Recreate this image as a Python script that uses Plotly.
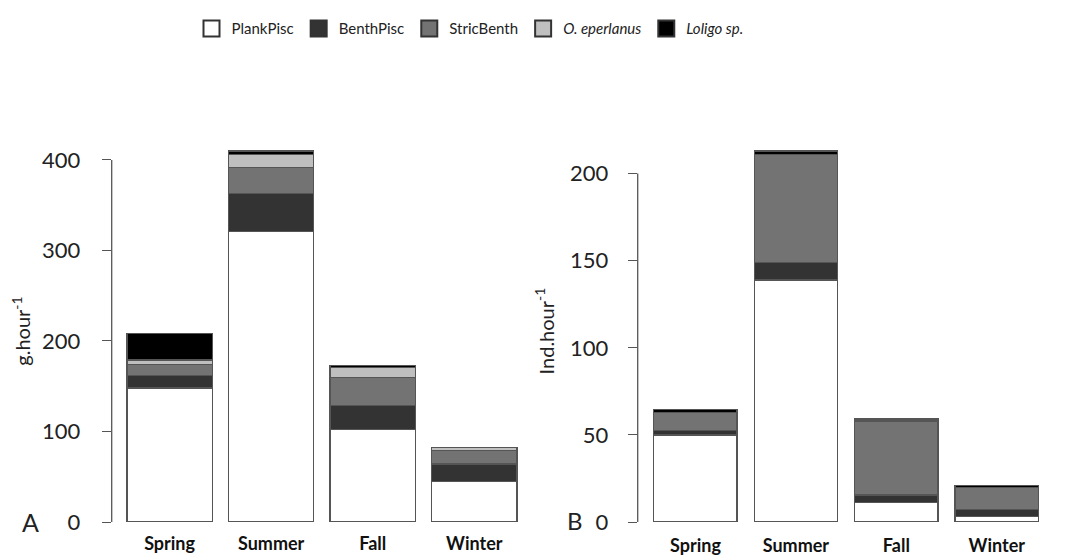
import plotly.graph_objects as go

seasons = ["Spring", "Summer", "Fall", "Winter"]
groups = ["PlankPisc", "BenthPisc", "StricBenth", "<i>O. eperlanus</i>", "<i>Loligo sp.</i>"]
colors = ["#ffffff", "#333333", "#737373", "#bfbfbf", "#000000"]

# Panel A: biomass (g.hour-1)
plank_A = [148, 321, 102, 45]
benth_A = [14, 42, 27, 19]
stric_A = [12, 29, 31, 15]
eper_A = [5, 14, 11, 3]
loligo_A = [29, 4, 2, 0]

# Panel B: abundance (Ind.hour-1)
plank_B = [50, 139, 11, 3]
benth_B = [2.5, 10, 4.5, 4]
stric_B = [10.5, 62, 42.5, 13]
eper_B = [0, 0, 0, 0]
loligo_B = [1.5, 2, 1.2, 1.1]

ticks_A = [0, 100, 200, 300, 400]
ticks_B = [0, 50, 100, 150, 200]

series_A = [plank_A, benth_A, stric_A, eper_A, loligo_A]
series_B = [plank_B, benth_B, stric_B, eper_B, loligo_B]

FONT = "Lato, 'Open Sans', sans-serif"
LINE = "#555555"

W, H = 1067, 549  # page has an 8px body margin

fig = go.Figure()

for vals, col in zip(series_A, colors):
    fig.add_trace(go.Bar(x=seasons, y=vals, marker=dict(color=col, line=dict(color=LINE, width=1.3)),
                         width=0.84, showlegend=False, xaxis="x", yaxis="y", hoverinfo="skip"))
for vals, col in zip(series_B, colors):
    fig.add_trace(go.Bar(x=seasons, y=vals, marker=dict(color=col, line=dict(color=LINE, width=1.3)),
                         width=0.83, showlegend=False, xaxis="x2", yaxis="y2", hoverinfo="skip"))

# legend entries
for name, col in zip(groups, colors):
    fig.add_trace(go.Scatter(x=[None], y=[None], mode="markers", name=name,
                             marker=dict(symbol="square", size=16, color=col,
                                         line=dict(color="#333333", width=2)),
                             xaxis="x", yaxis="y"))

fig.update_layout(
    barmode="stack",
    width=W, height=H,
    margin=dict(l=0, r=0, t=132, b=35),
    paper_bgcolor="white", plot_bgcolor="white",
    font=dict(family=FONT, color="#222222"),
    legend=dict(orientation="h", x=462 / W, xanchor="center", y=1.291, yanchor="middle",
                font=dict(size=15, family=FONT, color="#222222"), itemwidth=30,
                traceorder="normal"),
    xaxis=dict(domain=[103.7 / W, 512 / W], range=[-0.57, 3.45], showline=False, showgrid=False,
               zeroline=False, ticks="", ticklabelstandoff=9,
               tickfont=dict(size=18, family=FONT, color="#111111", weight="bold"),
               automargin=False),
    yaxis=dict(domain=[0, 1], range=[0, 422], tickvals=ticks_A, showline=False, showgrid=False,
               zeroline=False, ticks="outside", ticklen=9, tickwidth=1.3, tickcolor=LINE,
               ticklabelstandoff=17, tickfont=dict(size=22, family=FONT, color="#222222"),
               title=dict(text="g.hour<sup>-1</sup>", font=dict(size=20, family=FONT), standoff=6),
               automargin=False),
    xaxis2=dict(domain=[629.7 / W, 1034 / W], range=[-0.575, 3.45], showline=False, showgrid=False,
                zeroline=False, ticks="", ticklabelstandoff=11,
                tickfont=dict(size=18, family=FONT, color="#111111", weight="bold"),
                automargin=False, anchor="y2"),
    yaxis2=dict(domain=[0, 1], range=[0, 219.3], tickvals=ticks_B, showline=False, showgrid=False,
                zeroline=False, ticks="outside", ticklen=9, tickwidth=1.3, tickcolor=LINE,
                ticklabelstandoff=15, tickfont=dict(size=22, family=FONT, color="#222222"),
                title=dict(text="Ind.hour<sup>-1</sup>", font=dict(size=20, family=FONT), standoff=10),
                automargin=False, anchor="x2"),
    shapes=[
        dict(type="line", xref="x domain", yref="y", x0=0, x1=0, y0=min(ticks_A), y1=max(ticks_A),
             line=dict(color=LINE, width=1.3)),
        dict(type="line", xref="x2 domain", yref="y2", x0=0, x1=0, y0=min(ticks_B), y1=max(ticks_B),
             line=dict(color=LINE, width=1.3)),
    ],
    annotations=[
        dict(text="A", xref="paper", yref="paper", x=22 / W, y=0.0, xanchor="center", yanchor="middle",
             showarrow=False, font=dict(size=25, family=FONT, color="#222222")),
        dict(text="B", xref="paper", yref="paper", x=567 / W, y=0.005, xanchor="center", yanchor="middle",
             showarrow=False, font=dict(size=24, family=FONT, color="#222222")),
    ],
)

fig.write_html("out.html")
